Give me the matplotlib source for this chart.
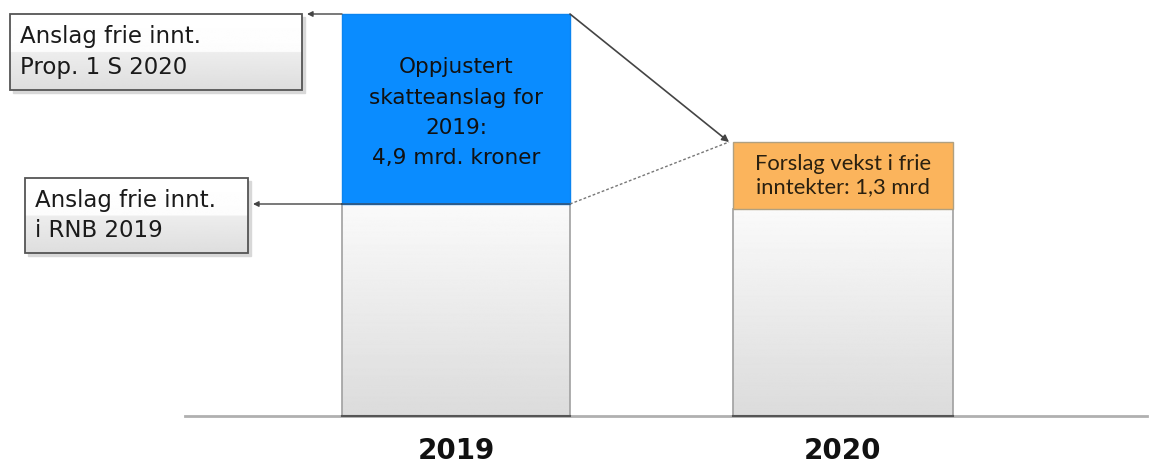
# Frie inntekter 2019 -> 2020, stablet stolpe med kommentarbokser
import numpy as np
import matplotlib.pyplot as plt
from matplotlib.patches import Rectangle

years = ['2019', '2020']
base = [212, 207]            # anslag frie innt. (RNB 2019 / nivå 2020)
topp = [190, 67]             # oppjustert skatteanslag / forslag vekst
topp_farger = ['#0a8cff', '#fbb45c']
topp_tekst = ['Oppjustert\nskatteanslag for\n2019:\n4,9 mrd. kroner',
              'Forslag vekst i frie\ninntekter: 1,3 mrd']
boks_tekst = ['Anslag frie innt.\nProp. 1 S 2020', 'Anslag frie innt.\ni RNB 2019']

fig = plt.figure(figsize=(11.49, 4.67), dpi=100)
ax = fig.add_axes([0, 0, 1, 1])
ax.set_xlim(0, 1149)
ax.set_ylim(-51, 416)
ax.axis('off')

x = [456, 843]
w = [228, 220]

# grunnlinje
ax.plot([185, 1147], [0, 0], color='#b0b0b0', lw=2, zorder=1)

grad = np.linspace(0.98, 0.86, 256).reshape(-1, 1)
bars = ax.bar(x, base, width=w, color='none', edgecolor='#a0a0a0', lw=1.2, zorder=3)
for b in bars:
    img = ax.imshow(grad, cmap='gray', vmin=0, vmax=1, aspect='auto', zorder=2,
                    extent=[b.get_x(), b.get_x() + b.get_width(), 0, b.get_height()])
    img.set_clip_path(b)
    ax.plot([b.get_x(), b.get_x() + b.get_width()], [0, 0], color='#555555', lw=1.5, zorder=4)

tops = ax.bar(x, topp, width=w, bottom=base, color=topp_farger, edgecolor=['#0a84f0', '#b0a080'],
              lw=1, zorder=3)
ax.plot([tops[0].get_x(), tops[0].get_x() + tops[0].get_width()], [base[0], base[0]],
        color='#335577', lw=1.2, zorder=4)

ax.text(x[0], base[0] + topp[0] * 0.48, topp_tekst[0], ha='center', va='center',
        fontsize=15.5, linespacing=1.65, color='#111111', zorder=5)
ax.text(x[1], base[1] + topp[1] / 2, topp_tekst[1], ha='center', va='center',
        fontsize=15.8, family='Lato', linespacing=1.25, color='#2a2010', zorder=5)

# kommentarbokser til venstre
topp19 = base[0] + topp[0]
boxes = [(10, 302, topp19 - 76, topp19, topp19), (25, 248, base[0] - 49, base[0] + 26, base[0])]
boxgrad = np.concatenate([np.linspace(1.0, 0.99, 128), np.linspace(0.93, 0.87, 128)]).reshape(-1, 1)
for (x0, x1, y0, y1, ya), txt in zip(boxes, boks_tekst):
    ax.add_patch(Rectangle((x0 + 3, y0 - 3), x1 - x0, y1 - y0, color='#d8d8d8', zorder=2))
    r = Rectangle((x0, y0), x1 - x0, y1 - y0, facecolor='none', edgecolor='#555555', lw=1.3, zorder=4)
    ax.add_patch(r)
    img = ax.imshow(boxgrad, cmap='gray', vmin=0, vmax=1, aspect='auto', zorder=3,
                    extent=[x0, x1, y0, y1])
    img.set_clip_path(r)
    ax.text(x0 + 10, (y0 + y1) / 2, txt, ha='left', va='center', fontsize=16.5,
            linespacing=1.4, color='#1a1a1a', zorder=5)
    ax.annotate('', xy=(x1 + 5, ya), xytext=(bars[0].get_x(), ya),
                arrowprops=dict(arrowstyle='-|>', color='#444444', lw=1, mutation_scale=8,
                                shrinkA=0, shrinkB=0), zorder=5)

# linjer fra 2019 til 2020
x2019 = bars[0].get_x() + bars[0].get_width()
hjorne = (bars[1].get_x() - 4, base[1] + topp[1])
ax.annotate('', xy=hjorne, xytext=(x2019, topp19),
            arrowprops=dict(arrowstyle='-|>', color='#444444', lw=1.2, mutation_scale=10,
                            shrinkA=0, shrinkB=0), zorder=5)
ax.plot([x2019, hjorne[0]], [base[0], hjorne[1]], color='#777777', lw=1, ls=(0, (2, 1.5)), zorder=5)

for xi, yr in zip(x, years):
    ax.text(xi, -35, yr, ha='center', va='center', fontsize=20, fontweight='bold', color='#111111')

fig.savefig('out.png', dpi=100)
